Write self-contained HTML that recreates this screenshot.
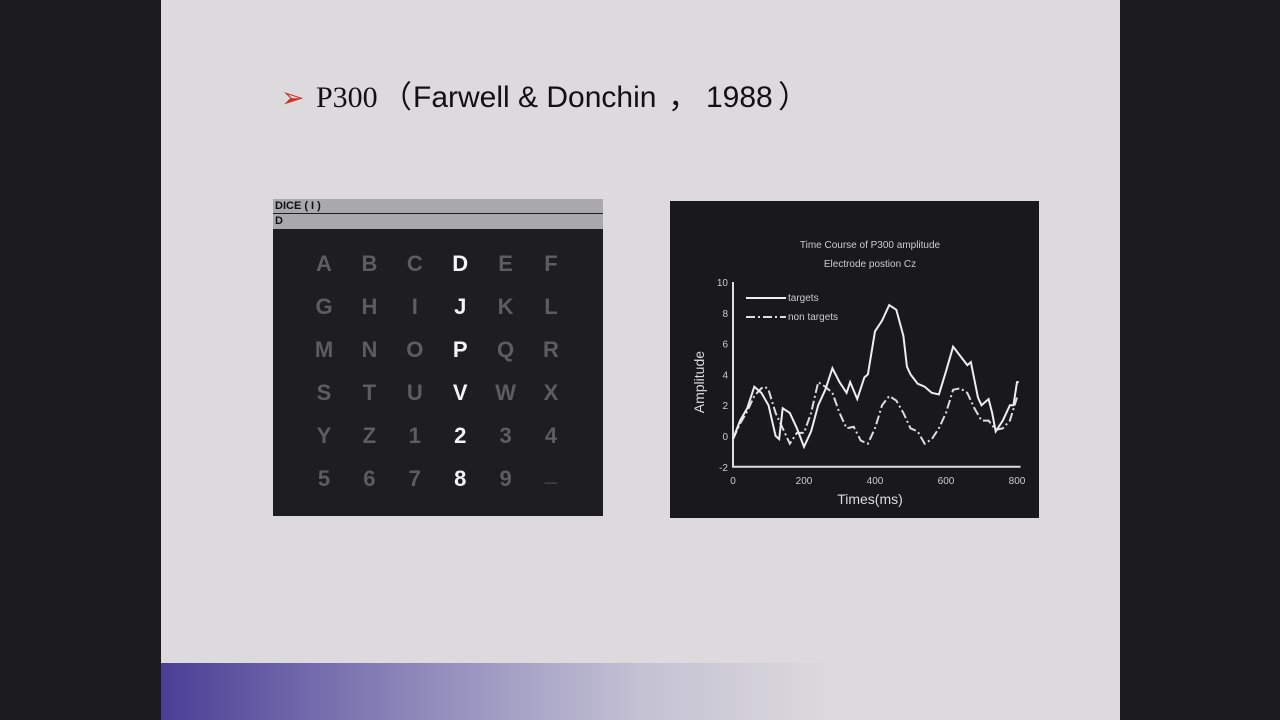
<!DOCTYPE html>
<html><head><meta charset="utf-8"><style>
body{margin:0;width:1280px;height:720px;background:#1b1a1c;position:relative;overflow:hidden;font-family:"Liberation Sans",sans-serif}
#slide{position:absolute;left:161px;top:0;width:959px;height:720px;background:#dcdadc}
#bar{position:absolute;left:161px;top:663px;width:959px;height:57px;background:linear-gradient(90deg,#4a3f96 0%,#8a84b8 25%,#c4c1d4 50%,#dcdadc 70%)}
.t{position:absolute;top:78px;font-size:31px;line-height:40px;color:#111;white-space:nowrap;font-family:"Liberation Sans","Noto Sans CJK SC",sans-serif}
#left{position:absolute;left:273px;top:199px;width:330px;height:317px;background:#1e1d1f}
.gb{position:absolute;left:0;width:330px;background:#a9a8aa;font-size:11px;font-weight:bold;color:#111;line-height:14px;padding-left:2px;box-sizing:border-box}
.ch{position:absolute;width:40px;text-align:center;font-size:22px;font-weight:bold;color:#5d5c5e;transform:translate(-50%,-50%)}
.ch.w{color:#f4f4f4}
#right{position:absolute;left:670px;top:201px;width:369px;height:317px;background:#19181a}
</style></head><body>
<div id="slide"></div>
<div id="bar"></div>
<div>
<span class="t" style="left:281px;color:#d0301e;font-size:28px">➢</span>
<span class="t" style="left:316px;font-family:'Liberation Serif',serif;font-size:30px">P300</span>
<span class="t" style="left:381px">（</span>
<span class="t" style="left:413px;font-size:30px">Farwell &amp; Donchin</span>
<span class="t" style="left:668px">，</span>
<span class="t" style="left:706px;font-size:30px">1988</span>
<span class="t" style="left:778px">）</span>
</div>
<div id="left">
<div class="gb" style="top:0;height:14px">DICE ( I )</div>
<div class="gb" style="top:15px;height:15px">D</div>
</div>
<div id="right">
<svg width="369" height="317" id="svg"></svg>
</div>
<script>
const chars="ABCDEFGHIJKLMNOPQRSTUVWXYZ123456789_";
const L=document.getElementById('left');
for(let i=0;i<36;i++){const d=document.createElement('div');const c=i%6,r=Math.floor(i/6);
d.className='ch'+(c==3?' w':'');d.textContent=chars[i];
d.style.left=(51+c*45.4)+'px';d.style.top=(65+r*43)+'px';
if(chars[i]=='_'){d.textContent='_';d.style.top=(60+r*43)+'px';}


L.appendChild(d);}
</script>
<script>
const targetT=[0,20,40,60,80,100,120,130,140,160,180,200,220,240,260,280,300,320,330,350,370,380,400,420,440,460,480,490,500,520,540,560,580,600,620,640,660,670,690,700,720,730,740,760,780,790,800,805];
const targetV=[-0.2,1,1.8,3.2,2.8,2,0,-0.2,1.8,1.5,0.5,-0.7,0.3,2,3,4.4,3.5,2.8,3.5,2.4,3.8,4,6.8,7.5,8.5,8.2,6.5,4.5,4,3.4,3.2,2.8,2.7,4.2,5.8,5.2,4.6,4.8,2.5,2,2.4,1.5,0.3,1,2,2,3.5,3.5];
const nonT=[0,20,40,60,80,90,100,120,140,160,180,200,220,240,260,280,300,320,340,360,380,400,420,440,460,480,500,520,540,560,580,600,620,640,660,680,700,720,740,760,780,800];
const nonV=[-0.2,0.8,1.6,2.6,3.1,3.2,3,1.5,0.5,-0.5,0.2,0.2,1.5,3.5,3.2,2.8,1.5,0.5,0.6,-0.3,-0.5,0.5,2,2.6,2.3,1.5,0.5,0.3,-0.5,-0.2,0.5,1.5,3,3.1,2.8,1.8,1,1,0.4,0.5,1,2.5];
const xTicks=[0,200,400,600,800];
const yTicks=[-2,0,2,4,6,8,10];
const svg=document.getElementById('svg');const NS='http://www.w3.org/2000/svg';
const X=v=>63+v*(284/800), Y=v=>235-(v)*15.4;
function mk(t,a,txt){const e=document.createElementNS(NS,t);for(const k in a)e.setAttribute(k,a[k]);if(txt!=null)e.textContent=txt;svg.appendChild(e);return e;}
let e;
e=mk('text',{x:200,y:47,'text-anchor':'middle',fill:'#ccc','font-size':10},'Time Course of P300 amplitude');


e=mk('text',{x:200,y:66,'text-anchor':'middle',fill:'#ccc','font-size':10},'Electrode postion Cz');


e=mk('path',{d:`M${X(0)} ${Y(10)}V${Y(-2)}H${X(810)}`,stroke:'#ddd','stroke-width':2,fill:'none'});


xTicks.forEach(t=>{e=mk('text',{x:X(t),y:283,'text-anchor':'middle',fill:'#ccc','font-size':10},t);

});
yTicks.forEach(t=>{e=mk('text',{x:X(0)-5,y:Y(t)+4,'text-anchor':'end',fill:'#ccc','font-size':10},t);

});
e=mk('text',{x:200,y:303,'text-anchor':'middle',fill:'#ddd','font-size':14},'Times(ms)');


e=mk('text',{x:0,y:0,'text-anchor':'middle',fill:'#ddd','font-size':14,transform:`translate(34,${Y(3.5)}) rotate(-90)`},'Amplitude');


const pts=(T,V)=>T.map((t,i)=>X(t)+','+Y(V[i])).join(' ');
e=mk('polyline',{points:pts(nonT,nonV),stroke:'#ddd','stroke-width':2,fill:'none','stroke-dasharray':'9 3 2 3'});


e=mk('polyline',{points:pts(targetT,targetV),stroke:'#eee','stroke-width':2,fill:'none'});


e=mk('line',{x1:76,y1:97,x2:116,y2:97,stroke:'#eee','stroke-width':2});


e=mk('text',{x:118,y:100,fill:'#ccc','font-size':10},'targets');


e=mk('line',{x1:76,y1:116,x2:116,y2:116,stroke:'#ddd','stroke-width':2,'stroke-dasharray':'9 3 2 3'});


e=mk('text',{x:118,y:119,fill:'#ccc','font-size':10},'non targets');


</script>
</body></html>
